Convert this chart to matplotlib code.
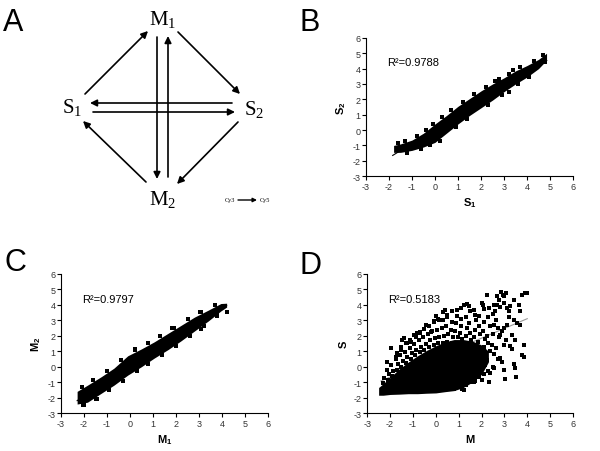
import matplotlib
matplotlib.use("Agg")
import matplotlib.pyplot as plt

plt.rcParams['font.family'] = ['Liberation Sans', 'DejaVu Sans']
plt.rcParams['axes.unicode_minus'] = False
plt.rcParams['mathtext.fontset'] = 'custom'
plt.rcParams['mathtext.rm'] = 'Liberation Serif'
plt.rcParams['mathtext.it'] = 'Liberation Serif:italic'
plt.rcParams['mathtext.bf'] = 'Liberation Sans:bold'

# ---- panel A: diagram (pixel units of the panel) ----
nodes = {'M1': (163, 20), 'S1': (72, 108), 'S2': (254, 109), 'M2': (163, 200)}
node_labels = {'M1': r'$\mathrm{M_1}$', 'S1': r'$\mathrm{S_1}$',
               'S2': r'$\mathrm{S_2}$', 'M2': r'$\mathrm{M_2}$'}
arrows = [((85, 95), (148, 32)), ((178, 33), (240, 95)),
          ((238, 123), (177, 185)), ((146, 183), (83, 122)),
          ((157, 38), (157, 180)), ((168, 178), (168, 37)),
          ((232, 104), (90, 104)), ((93, 113), (235, 113))]

ticks = [-3, -2, -1, 0, 1, 2, 3, 4, 5, 6]

# ---- panel B: S1 vs S2 ----
b_band_x = [-1.8, -1.5, -1.0, -0.5, 0.0, 0.5, 1.0, 1.5, 2.0, 2.5, 3.0, 3.5, 4.0, 4.5, 4.85]
b_band_hi = [-1.0, -0.9, -0.65, -0.2, 0.4, 0.95, 1.55, 2.05, 2.55, 3.0, 3.4, 3.85, 4.2, 4.6, 5.0]
b_band_lo = [-1.45, -1.45, -1.32, -1.1, -0.8, -0.2, 0.4, 0.95, 1.45, 1.95, 2.5, 3.0, 3.45, 4.0, 4.55]
b_pts_x = [-1.6, -1.3, -0.8, -0.4, -0.1, 0.3, 0.7, 1.2, 1.7, 2.2, 2.6, 2.8, 3.2, 3.4, 3.7, 4.3,
           4.7, -1.2, -0.6, -0.2, 0.2, 0.9, 1.4, 2.3, 2.9, 3.6, 4.1, 3.23, 4.8, 2.75]
b_pts_y = [-0.85, -0.68, -0.38, 0.0, 0.38, 0.82, 1.28, 1.85, 2.35, 2.82, 3.18, 3.35, 3.68, 3.9,
           4.1, 4.52, 4.9, -1.48, -1.24, -0.98, -0.68, 0.2, 0.75, 1.65, 2.3, 3.0, 3.48, 2.45,
           4.45, 3.2]
b_fit_x = [-1.84, 4.86]
b_fit_y = [-1.65, 4.52]

# ---- panel C: M1 vs M2 ----
c_band_x = [-2.3, -1.85, -1.25, -0.7, -0.1, 0.5, 1.05, 1.65, 2.2, 2.8, 3.4, 3.95, 4.2]
c_band_hi = [-1.6, -1.2, -0.65, -0.1, 0.7, 1.15, 1.6, 2.15, 2.65, 3.2, 3.65, 4.08, 4.1]
c_band_lo = [-2.42, -2.3, -1.72, -1.2, -0.55, 0.0, 0.55, 1.1, 1.65, 2.3, 2.95, 3.6, 3.85]
c_pts_x = [-2.1, -1.6, -1.0, -0.4, 0.2, 0.8, 1.3, 1.9, 2.5, 3.1, 3.7,
           -2.0, -1.5, -0.9, -0.3, 0.3, 0.8, 1.4, 2.0, 2.6, 3.2, 3.8,
           1.81, 3.04, 3.07, 3.77, 4.2, 0.22, -1.45, -2.05]
c_pts_y = [-1.3, -0.85, -0.3, 0.42, 1.05, 1.52, 1.95, 2.5, 3.05, 3.55, 3.98,
           -2.5, -2.08, -1.5, -0.9, -0.3, 0.18, 0.76, 1.33, 1.95, 2.6, 3.32,
           2.5, 3.5, 2.42, 3.3, 3.52, 1.15, -2.1, -2.5]
c_fit_x = [-2.3, 4.2]
c_fit_y = [-2.2, 3.95]

# ---- panel D: M vs S ----
d_core_x = [-2.5, -2.3, -2.0, -1.6, -1.2, -0.8, -0.4, 0.0, 0.4, 0.8, 1.2, 1.6, 2.0, 2.3]
d_core_hi = [-1.35, -1.1, -0.7, -0.15, 0.3, 0.7, 1.05, 1.35, 1.6, 1.75, 1.75, 1.65, 1.4, 1.0]
d_core_lo = [-1.85, -1.85, -1.80, -1.78, -1.75, -1.75, -1.72, -1.70, -1.62, -1.55, -1.35, -1.0,
             -0.5, 0.3]
d_cloud = [(-2.3, -1.05), (-2.25, -0.75), (-2.1, -0.85), (-2.05, -0.5), (-2.15, -0.2),
           (-1.9, -0.6), (-1.85, -0.3), (-1.95, 0.1), (-1.7, -0.25), (-1.65, 0.2), (-1.75, 0.5),
           (-1.5, 0.0), (-1.45, 0.35), (-1.55, 0.75), (-1.5, 1.1), (-1.3, 0.25), (-1.25, 0.6),
           (-1.35, 0.95), (-1.3, 1.5), (-1.1, 0.5), (-1.05, 0.85), (-1.15, 1.2), (-1.1, 1.6),
           (-0.9, 0.75), (-0.85, 1.1), (-0.95, 1.45), (-0.88, 1.9), (-0.7, 0.95), (-0.65, 1.3),
           (-0.75, 1.7), (-0.7, 2.2), (-0.5, 1.1), (-0.45, 1.45), (-0.55, 1.9), (-0.5, 2.45),
           (-0.3, 1.3), (-0.25, 1.7), (-0.35, 2.1), (-0.3, 2.6), (-0.1, 1.4), (-0.05, 1.85),
           (-0.15, 2.3), (-0.1, 2.9), (0.1, 1.5), (0.15, 1.9), (0.05, 2.4), (0.1, 3.1),
           (0.3, 1.55), (0.35, 2.0), (0.25, 2.5), (0.3, 3.0), (0.32, 3.5), (0.5, 1.6),
           (0.55, 2.1), (0.45, 2.6), (0.5, 3.2), (0.7, 1.5), (0.75, 1.9), (0.65, 2.4),
           (0.7, 2.9), (0.72, 3.6), (0.9, 1.45), (0.95, 1.9), (0.85, 2.3), (0.9, 2.8),
           (0.92, 3.3), (1.1, 1.3), (1.15, 1.8), (1.05, 2.2), (1.1, 2.6), (1.12, 3.1),
           (1.1, 3.8), (1.3, -1.2), (1.35, -0.6), (1.25, 0.0), (1.3, 0.5), (1.35, 1.0),
           (1.28, 1.5), (1.3, 2.0), (1.35, 2.5), (1.3, 3.2), (1.5, -1.0), (1.45, -0.4),
           (1.55, 0.2), (1.5, 0.7), (1.45, 1.2), (1.55, 1.7), (1.5, 2.2), (1.45, 2.8),
           (1.5, 3.6), (1.7, -0.9), (1.75, -0.3), (1.65, 0.3), (1.7, 0.9), (1.75, 1.4),
           (1.68, 1.9), (1.7, 2.4), (1.75, 3.0), (1.9, -0.7), (1.85, -0.1), (1.95, 0.5),
           (1.9, 1.1), (1.85, 1.6), (1.95, 2.1), (1.9, 2.6), (1.88, 3.3), (2.1, -0.5),
           (2.15, 0.1), (2.05, 0.7), (2.1, 1.3), (2.15, 1.8), (2.05, 2.3), (2.1, 2.9),
           (2.12, 3.7), (2.3, -0.3), (2.25, 0.4), (2.35, 1.0), (2.3, 1.5), (2.25, 2.0),
           (2.35, 2.6), (2.3, 3.2), (2.5, 0.0), (2.55, 0.8), (2.45, 1.4), (2.5, 2.1),
           (2.55, 2.7), (2.5, 3.4), (2.7, 0.5), (2.65, 1.2), (2.75, 1.9), (2.7, 2.5),
           (2.65, 3.0)]
d_outliers = [(2.85, 4.80), (2.93, 4.65), (3.07, 4.75), (3.0, 4.55), (3.77, 4.60), (3.88, 4.76),
              (3.99, 4.76), (2.24, 4.65), (2.0, 4.10), (2.07, 4.0), (1.44, 3.90), (1.37, 4.02),
              (1.22, 4.0), (0.93, 3.68), (0.49, 3.35), (0.42, 3.68), (0.0, 3.25),
              (-0.09, 2.92), (-0.45, 2.70), (-0.82, 2.16), (-0.96, 2.05), (-1.40, 1.83),
              (-1.47, 1.73), (-1.98, 1.18), (-1.69, 0.86), (2.60, 3.57), (2.68, 4.0),
              (2.82, 3.83), (3.0, 4.11), (3.11, 3.79), (3.26, 3.90), (3.19, 3.57),
              (3.40, 3.03), (3.55, 2.81), (3.70, 2.70), (3.11, 2.70), (2.97, 2.49),
              (3.84, 1.40), (3.84, 0.64), (3.77, 0.75), (3.40, 0.20), (2.97, -0.23),
              (3.04, -0.77), (3.45, -0.12), (3.52, -0.66), (2.90, 0.32), (2.82, 0.53),
              (2.31, -0.98), (2.0, -0.86), (1.66, -0.98), (1.15, -1.42), (1.22, -1.53),
              (0.78, -1.45), (2.82, 2.05), (3.33, 2.05), (3.48, 1.73), (2.97, 1.40),
              (3.25, 1.36), (3.32, 1.14), (2.53, -0.12), (2.39, -0.44), (3.62, 4.0),
              (3.70, 3.57), (3.40, 4.33), (2.75, 4.33), (2.68, 4.55), (2.53, 4.0),
              (2.31, 3.79), (1.66, 3.68), (1.73, 3.35), (0.71, 3.57), (0.13, 3.03),
              (-0.23, 2.27), (-0.67, 2.27), (-1.11, 1.73), (-1.25, 1.51), (-1.54, 1.29),
              (-1.76, 0.64), (-2.13, 0.32), (3.05, 1.75), (2.9, 2.3), (3.2, 3.2)]
d_fit_x = [-2.4, 4.0]
d_fit_y = [-0.93, 3.10]
d_pts_x = [p[0] for p in d_cloud + d_outliers]
d_pts_y = [p[1] for p in d_cloud + d_outliers]

fig = plt.figure(figsize=(6, 4.52), dpi=100)

# panel letters
for letter, (px, py) in zip('ABCD', [(3, 8), (300, 8), (5, 248), (300, 251)]):
    fig.text(px / 600, 1 - py / 452, letter, fontsize=22, ha='left', va='top')

# diagram
axA = fig.add_axes([0, 0.5, 0.5, 0.5])
axA.set_xlim(0, 300)
axA.set_ylim(226, 0)
axA.axis('off')
for start, end in arrows:
    axA.annotate('', xy=end, xytext=start,
                 arrowprops=dict(arrowstyle='-|>', lw=1.2, color='black',
                                 mutation_scale=10, shrinkA=0, shrinkB=0))
for key, (nx, ny) in nodes.items():
    axA.text(nx, ny, node_labels[key], fontsize=15, ha='center', va='center')
axA.text(230, 201, 'Cy3', fontsize=4.5, family='Liberation Serif', ha='center', va='center')
axA.text(265, 201, 'Cy5', fontsize=4.5, family='Liberation Serif', ha='center', va='center')
axA.annotate('', xy=(257, 201), xytext=(238, 201),
             arrowprops=dict(arrowstyle='-|>', lw=1.0, color='black',
                             mutation_scale=6, shrinkA=0, shrinkB=0))


def style(ax, xlabel, ylabel):
    ax.set_xlim(-3, 6)
    ax.set_ylim(-3, 6)
    ax.set_xticks(ticks)
    ax.set_yticks(ticks)
    ax.spines['top'].set_visible(False)
    ax.spines['right'].set_visible(False)
    for s in ['left', 'bottom']:
        ax.spines[s].set_linewidth(0.8)
    ax.tick_params(direction='out', length=3, width=0.8, labelsize=6.5, pad=1,
                   labelcolor='#333333')
    ax.set_xlabel(xlabel, fontsize=8, labelpad=3)
    ax.set_ylabel(ylabel, fontsize=8, labelpad=3)


panels = [
    ([0.610, 0.608, 0.345, 0.306], b_band_x, b_band_lo, b_band_hi, b_pts_x, b_pts_y, 5,
     b_fit_x, b_fit_y, 'black', r'$\mathbf{S_1}$', r'$\mathbf{S_2}$', 'R\u00b2=0.9788', 4.43),
    ([0.1017, 0.084, 0.345, 0.308], c_band_x, c_band_lo, c_band_hi, c_pts_x, c_pts_y, 5,
     c_fit_x, c_fit_y, 'black', r'$\mathbf{M_1}$', r'$\mathbf{M_2}$', 'R\u00b2=0.9797', 4.38),
    ([0.612, 0.084, 0.343, 0.308], d_core_x, d_core_lo, d_core_hi, d_pts_x, d_pts_y, 12,
     d_fit_x, d_fit_y, '#999999', r'$\mathbf{M}$', r'$\mathbf{S}$', 'R\u00b2=0.5183', 4.38),
]

for rect, bx, blo, bhi, px, py, ms, fx, fy, fcol, xl, yl, r2, ry in panels:
    ax = fig.add_axes(rect)
    ax.plot(fx, fy, color=fcol, lw=0.8, zorder=1)
    ax.fill_between(bx, blo, bhi, color='black', lw=0, zorder=2)
    ax.scatter(px, py, marker='s', s=ms, color='black', linewidths=0, zorder=3)
    ax.text(-2.1, ry, r2, fontsize=8, ha='left', va='center')
    style(ax, xl, yl)

fig.savefig('out.png', dpi=100)
